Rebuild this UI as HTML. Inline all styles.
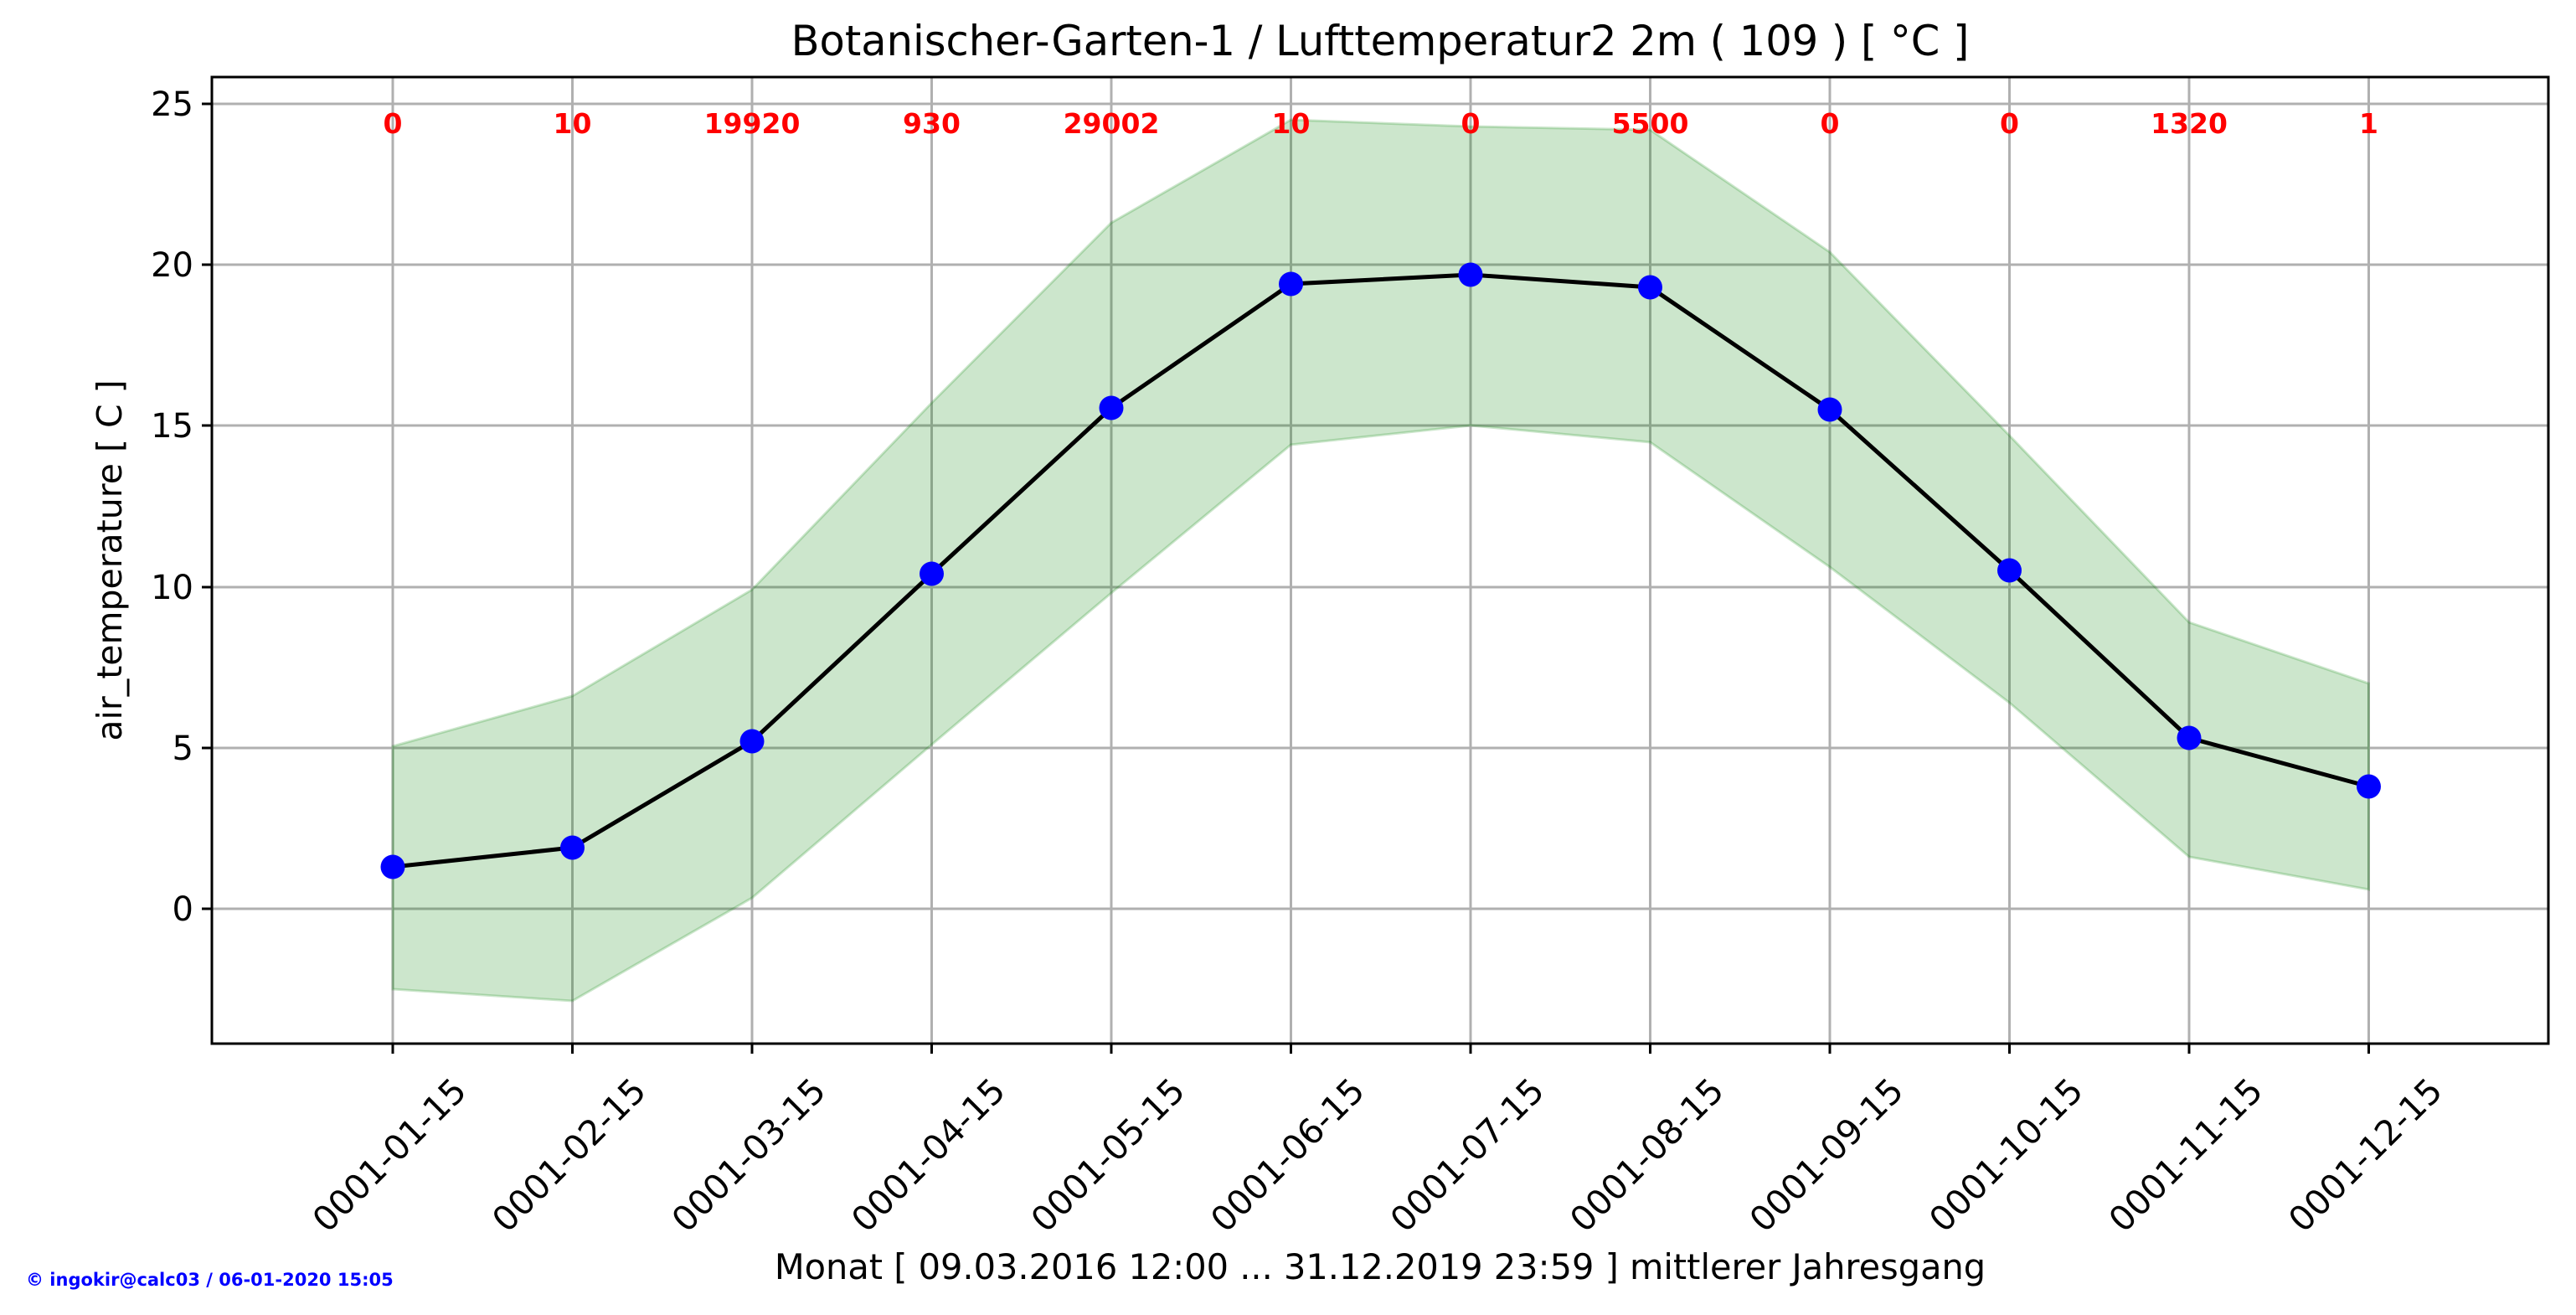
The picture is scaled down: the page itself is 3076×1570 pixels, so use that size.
<!DOCTYPE html>
<html><head><meta charset="utf-8"><style>html,body{margin:0;padding:0;background:#fff}svg{display:block}</style></head>
<body>
<svg width="3076" height="1570" viewBox="0 0 3076 1570" xmlns="http://www.w3.org/2000/svg" font-family="DejaVu Sans, Liberation Sans, sans-serif">
<rect width="3076" height="1570" fill="#fff"/>
<g stroke="#b0b0b0" stroke-width="3">
<line x1="253" x2="3043" y1="1085" y2="1085"/>
<line x1="253" x2="3043" y1="893" y2="893"/>
<line x1="253" x2="3043" y1="701" y2="701"/>
<line x1="253" x2="3043" y1="508" y2="508"/>
<line x1="253" x2="3043" y1="316" y2="316"/>
<line x1="253" x2="3043" y1="124" y2="124"/>
<line x1="469" x2="469" y1="92" y2="1246"/>
<line x1="683.5" x2="683.5" y1="92" y2="1246"/>
<line x1="898" x2="898" y1="92" y2="1246"/>
<line x1="1112.5" x2="1112.5" y1="92" y2="1246"/>
<line x1="1327" x2="1327" y1="92" y2="1246"/>
<line x1="1541.5" x2="1541.5" y1="92" y2="1246"/>
<line x1="1756" x2="1756" y1="92" y2="1246"/>
<line x1="1970.5" x2="1970.5" y1="92" y2="1246"/>
<line x1="2185" x2="2185" y1="92" y2="1246"/>
<line x1="2399.5" x2="2399.5" y1="92" y2="1246"/>
<line x1="2614" x2="2614" y1="92" y2="1246"/>
<line x1="2828.5" x2="2828.5" y1="92" y2="1246"/>
</g>
<polygon fill="#008000" fill-opacity="0.2" stroke="#008000" stroke-opacity="0.2" stroke-width="3"
points="469,891 683.5,831 898,704 1112.5,481 1327,266 1541.5,143 1756,151 1970.5,155 2185,301 2399.5,520 2614,743 2828.5,816 2828.5,1062 2614,1023 2399.5,839 2185,677 1970.5,528 1756,508 1541.5,531 1327,708 1112.5,889 898,1072 683.5,1195 469,1181"/>
<polyline fill="none" stroke="#000" stroke-width="5" points="469,1035 683.5,1012 898,885 1112.5,685 1327,487 1541.5,339 1756,328 1970.5,343 2185,489 2399.5,681 2614,881 2828.5,939"/>
<g fill="#0000ff">
<circle cx="469" cy="1035" r="14.5"/><circle cx="683.5" cy="1012" r="14.5"/><circle cx="898" cy="885" r="14.5"/><circle cx="1112.5" cy="685" r="14.5"/><circle cx="1327" cy="487" r="14.5"/><circle cx="1541.5" cy="339" r="14.5"/><circle cx="1756" cy="328" r="14.5"/><circle cx="1970.5" cy="343" r="14.5"/><circle cx="2185" cy="489" r="14.5"/><circle cx="2399.5" cy="681" r="14.5"/><circle cx="2614" cy="881" r="14.5"/><circle cx="2828.5" cy="939" r="14.5"/>
</g>
<g fill="#ff0000" font-weight="bold" font-size="33" text-anchor="middle">
<text x="469" y="159">0</text><text x="683.5" y="159">10</text><text x="898" y="159">19920</text><text x="1112.5" y="159">930</text><text x="1327" y="159">29002</text><text x="1541.5" y="159">10</text><text x="1756" y="159">0</text><text x="1970.5" y="159">5500</text><text x="2185" y="159">0</text><text x="2399.5" y="159">0</text><text x="2614" y="159">1320</text><text x="2828.5" y="159">1</text>
</g>
<rect x="253" y="92" width="2790" height="1154" fill="none" stroke="#000" stroke-width="3"/>
<g stroke="#000" stroke-width="3">
<line x1="241" x2="253" y1="1085" y2="1085"/><line x1="241" x2="253" y1="893" y2="893"/><line x1="241" x2="253" y1="701" y2="701"/><line x1="241" x2="253" y1="508" y2="508"/><line x1="241" x2="253" y1="316" y2="316"/><line x1="241" x2="253" y1="124" y2="124"/>
<line x1="469" x2="469" y1="1246" y2="1258"/><line x1="683.5" x2="683.5" y1="1246" y2="1258"/><line x1="898" x2="898" y1="1246" y2="1258"/><line x1="1112.5" x2="1112.5" y1="1246" y2="1258"/><line x1="1327" x2="1327" y1="1246" y2="1258"/><line x1="1541.5" x2="1541.5" y1="1246" y2="1258"/><line x1="1756" x2="1756" y1="1246" y2="1258"/><line x1="1970.5" x2="1970.5" y1="1246" y2="1258"/><line x1="2185" x2="2185" y1="1246" y2="1258"/><line x1="2399.5" x2="2399.5" y1="1246" y2="1258"/><line x1="2614" x2="2614" y1="1246" y2="1258"/><line x1="2828.5" x2="2828.5" y1="1246" y2="1258"/>
</g>
<g font-size="40" text-anchor="end" fill="#000">
<text x="231" y="1099">0</text><text x="231" y="907">5</text><text x="231" y="715">10</text><text x="231" y="522">15</text><text x="231" y="330">20</text><text x="231" y="138">25</text>
</g>
<g font-size="41" text-anchor="middle" fill="#000">
<text transform="translate(475,1389) rotate(-45)">0001-01-15</text>
<text transform="translate(689.5,1389) rotate(-45)">0001-02-15</text>
<text transform="translate(904,1389) rotate(-45)">0001-03-15</text>
<text transform="translate(1118.5,1389) rotate(-45)">0001-04-15</text>
<text transform="translate(1333,1389) rotate(-45)">0001-05-15</text>
<text transform="translate(1547.5,1389) rotate(-45)">0001-06-15</text>
<text transform="translate(1762,1389) rotate(-45)">0001-07-15</text>
<text transform="translate(1976.5,1389) rotate(-45)">0001-08-15</text>
<text transform="translate(2191,1389) rotate(-45)">0001-09-15</text>
<text transform="translate(2405.5,1389) rotate(-45)">0001-10-15</text>
<text transform="translate(2620,1389) rotate(-45)">0001-11-15</text>
<text transform="translate(2834.5,1389) rotate(-45)">0001-12-15</text>
</g>
<text x="1648" y="66" font-size="49.5" text-anchor="middle">Botanischer-Garten-1 / Lufttemperatur2 2m ( 109 ) [ °C ]</text>
<text x="1648" y="1527" font-size="41.5" text-anchor="middle">Monat [ 09.03.2016 12:00 ... 31.12.2019 23:59 ] mittlerer Jahresgang</text>
<text transform="translate(145,669) rotate(-90)" font-size="41" text-anchor="middle">air_temperature [ C ]</text>
<text x="31" y="1535" font-size="21" font-weight="bold" fill="#0000ff">© ingokir@calc03 / 06-01-2020 15:05</text>
</svg>
</body></html>
